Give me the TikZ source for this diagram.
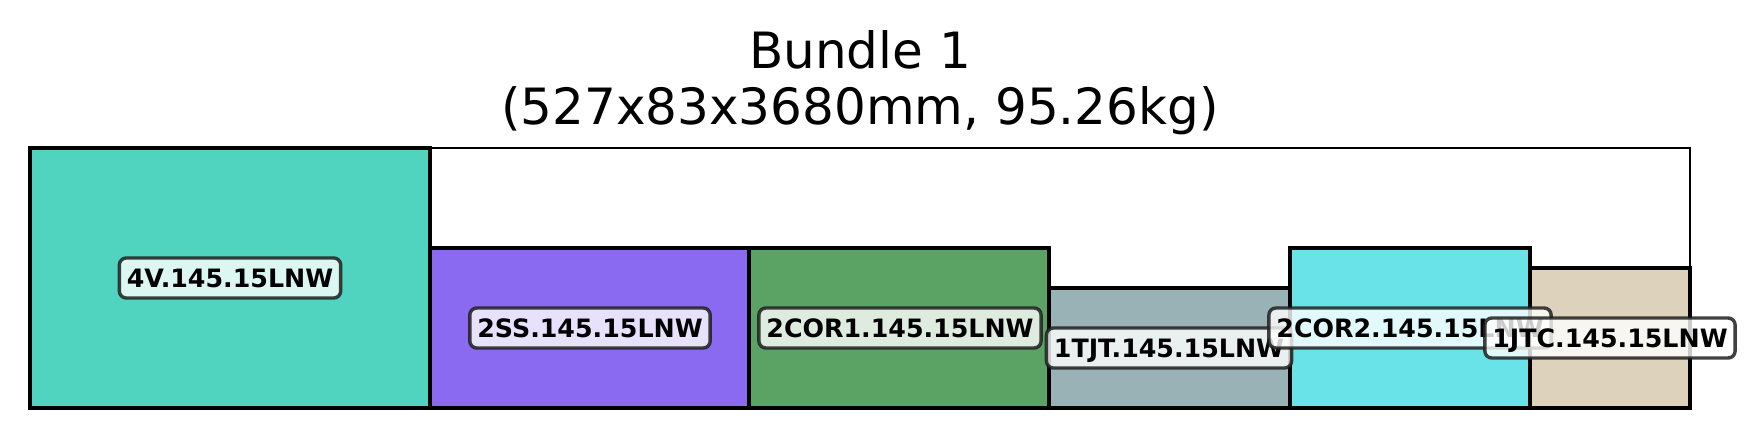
\documentclass[tikz,border=0pt]{standalone}
\usepackage{fontspec}
\setmainfont{DejaVu Sans}
\begin{document}
\begin{tikzpicture}[x=1pt,y=-1pt]
\tikzset{
  part/.style={draw=black, line width=3.4pt},
  tag/.style={draw=black!88, line width=3.4pt, rounded corners=7pt, fill=white, fill opacity=0.8, draw opacity=0.85, text opacity=1,
    font=\fontsize{25.3}{27}\selectfont\bfseries, inner xsep=7.5pt, inner ysep=0pt, minimum height=40pt, text height=18.5pt, text depth=0pt},
  ttl/.style={font=\fontsize{50}{56}\selectfont, anchor=base, inner sep=0pt}
}
\definecolor{cA}{HTML}{50D3BF}
\definecolor{cB}{HTML}{896AF0}
\definecolor{cC}{HTML}{5BA365}
\definecolor{cD}{HTML}{99B2B6}
\definecolor{cE}{HTML}{69E3E8}
\definecolor{cF}{HTML}{DDD3BD}
\useasboundingbox (0,0) rectangle (1756,438);
\fill[white] (0,0) rectangle (1756,438);
\node[ttl] (t1) at (860,69) {Bundle 1};
\node[ttl] (t2) at (860,125) {(527x83x3680mm, 95.26kg)};
\draw[line width=2.6pt, fill=white] (30,148) rectangle (1690,408);
\draw[part, fill=cA] (30,148) rectangle (430,408);
\draw[part, fill=cB] (430,248) rectangle (749,408);
\draw[part, fill=cC] (749,248) rectangle (1049,408);
\draw[part, fill=cD] (1049,288) rectangle (1290,408);
\draw[part, fill=cE] (1290,248) rectangle (1530,408);
\draw[part, fill=cF] (1530,268) rectangle (1690,408);
\node[tag] (l1) at (230,278) {4V.145.15LNW};
\node[tag] (l2) at (590,328) {2SS.145.15LNW};
\node[tag] (l3) at (900,328) {2COR1.145.15LNW};
\node[tag] (l4) at (1169,348) {1TJT.145.15LNW};
\node[tag] (l5) at (1410,328) {2COR2.145.15LNW};
\node[tag] (l6) at (1610,338) {1JTC.145.15LNW};
\end{tikzpicture}
\end{document}
